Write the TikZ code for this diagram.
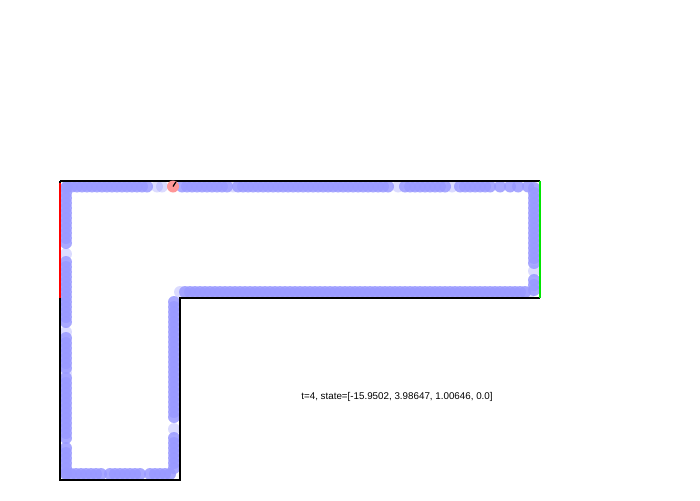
\documentclass[tikz,border=0pt]{standalone}
\usepackage{fontspec}
\setmainfont{Liberation Sans}
\definecolor{trail}{RGB}{153,153,255}
\definecolor{robotred}{RGB}{255,150,150}
\definecolor{exitgreen}{RGB}{0,230,0}
\begin{document}
\begin{tikzpicture}[x=1pt,y=-1pt,
  dot/.style={fill=trail,opacity=0.85,draw=none},
  faint/.style={fill=trail,opacity=0.35,draw=none},
  wall/.style={draw=black,line width=2.4pt},
  robot/.style={fill=robotred,draw=none},
  lbl/.style={font=\fontsize{9.8}{11}\selectfont,inner sep=0pt}]
\useasboundingbox (0,0) rectangle (700,500);

% trail of past states along the walls
\foreach \x in {67,72,...,147,182,187,...,227,238,243,...,303,308,313,...,388,405,410,...,445,460,465,...,490,500,510,518,528}
  \fill[dot] (\x,186.5) circle (6);
\foreach \x in {157,162,233,398,452}
  \fill[faint] (\x,186.5) circle (6);
\foreach \y in {188,193,...,263,280,285,290}
  \fill[dot] (534,\y) circle (6);
\fill[faint] (534,271) circle (6);
\foreach \x in {185,190,...,525}
  \fill[dot] (\x,292) circle (6);
\foreach \x in {180,530}
  \fill[faint] (\x,292) circle (6);
\foreach \y in {302,307,...,420,438,443,...,472}
  \fill[dot] (174,\y) circle (6);
\fill[faint] (174,429) circle (6);
\foreach \x in {66,71,...,101,110,115,...,140,150,155,...,174}
  \fill[dot] (\x,474) circle (6);
\foreach \y in {188,193,...,246,262,267,...,326,338,343,...,368,378,383,...,438,448,453,...,474}
  \fill[dot] (66,\y) circle (6);
\foreach \y in {254,332,373}
  \fill[faint] (66,\y) circle (6);

% walls of the corridor
\draw[wall] (60,181) -- (540,181);
\draw[wall] (60,181) -- (60,480) -- (180,480) -- (180,298) -- (540,298);
\draw[draw=red,line width=2.4pt] (60,183) -- (60,298);
\draw[draw=exitgreen,line width=2.4pt] (540,181) -- (540,298);

% current state
\node[robot,circle,minimum size=12pt,inner sep=0pt] (bot) at (173,186.5) {};
\draw[line width=1.2pt] (bot.center) -- ++(-57.7:5.5);

\node[lbl] (state) at (397,397) {t=4, state=[-15.9502, 3.98647, 1.00646, 0.0]};
\end{tikzpicture}
\end{document}
